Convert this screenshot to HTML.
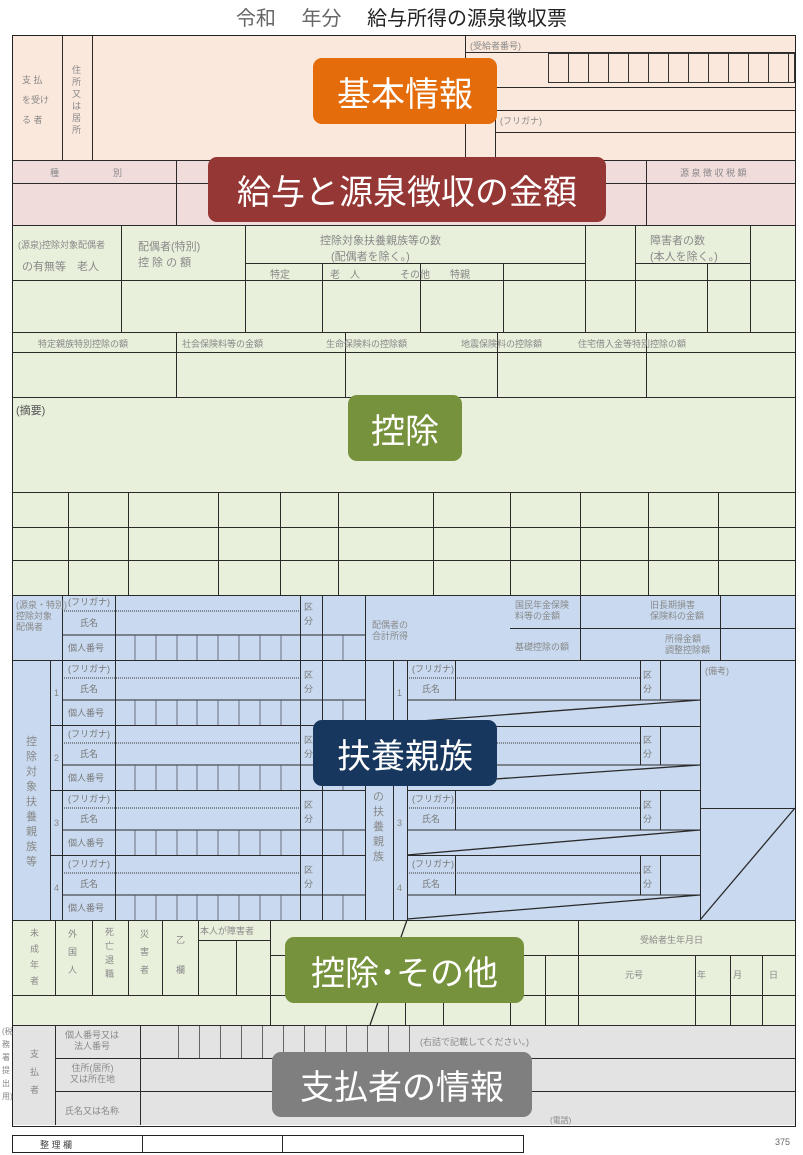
<!DOCTYPE html>
<html><head><meta charset="utf-8"><style>
body{margin:0;width:803px;height:1155px;background:#fff;position:relative;overflow:hidden;font-family:"Liberation Sans","Noto Sans CJK JP",sans-serif}
.a{position:absolute}
.h{position:absolute;height:0;border-top:1px solid #2a2a2a}
.v{position:absolute;width:0;border-left:1px solid #2a2a2a}
.t{position:absolute;font-size:9px;color:#888;white-space:nowrap}
.lab{position:absolute;color:#fff;border-radius:9px;font-size:34px;display:flex;align-items:center;justify-content:center;white-space:nowrap}
</style></head><body>
<div class="a" style="left:0;top:2px;width:803px;text-align:center;font-size:20px;color:#222"><span style="color:#666">令和　 年分　 </span>給与所得の源泉徴収票</div>
<div class="a" style="left:12px;top:36px;width:783px;height:124px;background:#fbe8dc"></div>
<div class="a" style="left:12px;top:160px;width:783px;height:65px;background:#f1dcdc"></div>
<div class="a" style="left:12px;top:225px;width:783px;height:370px;background:#e8f0dc"></div>
<div class="a" style="left:12px;top:595px;width:783px;height:325px;background:#c9daf0"></div>
<div class="a" style="left:12px;top:920px;width:783px;height:105px;background:#e8f0dc"></div>
<div class="a" style="left:12px;top:1025px;width:783px;height:100px;background:#e3e3e3"></div>
<div class="a" style="left:12px;top:35px;width:782px;height:1090px;border:1px solid #222"></div>
<div class="v" style="left:62px;top:36px;height:124px"></div>
<div class="v" style="left:92px;top:36px;height:124px"></div>
<div class="h" style="left:465px;top:52px;width:330px"></div>
<div class="h" style="left:465px;top:87px;width:330px"></div>
<div class="h" style="left:465px;top:110px;width:330px"></div>
<div class="h" style="left:495px;top:132px;width:300px"></div>
<div class="v" style="left:465px;top:36px;height:124px"></div>
<div class="v" style="left:495px;top:110px;height:50px"></div>
<div class="a" style="left:548px;top:53px;width:245px;height:28px;border:1px solid #333;background:repeating-linear-gradient(90deg,transparent 0 19px,#333 19px 20px)"></div>
<div class="t" style="left:470px;top:39px">(受給者番号)</div>
<div class="t" style="left:500px;top:114px">(フリガナ)</div>
<div class="t" style="left:22px;top:70px;line-height:20px">支 払<br>を受け<br>る 者</div>
<div class="t" style="left:72px;top:64px;width:10px;line-height:12px;white-space:normal">住所又は居所</div>
<div class="h" style="left:12px;top:160px;width:783px"></div>
<div class="h" style="left:12px;top:183px;width:783px"></div>
<div class="v" style="left:176px;top:160px;height:65px"></div>
<div class="v" style="left:646px;top:160px;height:65px"></div>
<div class="t" style="left:50px;top:166px">種　　　　　　別</div>
<div class="t" style="left:680px;top:166px">源 泉 徴 収 税 額</div>
<div class="h" style="left:12px;top:225px;width:783px"></div>
<div class="v" style="left:121px;top:225px;height:107px"></div>
<div class="v" style="left:245px;top:225px;height:107px"></div>
<div class="v" style="left:585px;top:225px;height:107px"></div>
<div class="v" style="left:635px;top:225px;height:107px"></div>
<div class="v" style="left:750px;top:225px;height:107px"></div>
<div class="h" style="left:245px;top:263px;width:340px"></div>
<div class="h" style="left:635px;top:263px;width:115px"></div>
<div class="h" style="left:12px;top:280px;width:783px"></div>
<div class="v" style="left:322px;top:263px;height:69px"></div>
<div class="v" style="left:420px;top:263px;height:69px"></div>
<div class="v" style="left:503px;top:263px;height:69px"></div>
<div class="v" style="left:707px;top:263px;height:69px"></div>
<div class="t" style="left:18px;top:238px">(源泉)控除対象配偶者</div>
<div class="t" style="left:22px;top:258px;font-size:11px">の有無等　老人</div>
<div class="t" style="left:138px;top:238px;font-size:11px">配偶者(特別)<br>控 除 の 額</div>
<div class="t" style="left:320px;top:232px;font-size:11px">控除対象扶養親族等の数<br>　(配偶者を除く。)</div>
<div class="t" style="left:270px;top:266px;font-size:10px">特定　　　　老　人　　　　その他　　特親</div>
<div class="t" style="left:650px;top:232px;font-size:11px">障害者の数<br>(本人を除く。)</div>
<div class="h" style="left:12px;top:332px;width:783px"></div>
<div class="h" style="left:12px;top:352px;width:783px"></div>
<div class="v" style="left:176px;top:332px;height:65px"></div>
<div class="v" style="left:345px;top:332px;height:65px"></div>
<div class="v" style="left:497px;top:332px;height:65px"></div>
<div class="v" style="left:646px;top:332px;height:65px"></div>
<div class="t" style="left:38px;top:337px">特定親族特別控除の額　　　　　　社会保険料等の金額　　　　　　　生命保険料の控除額　　　　　　地震保険料の控除額　　　　住宅借入金等特別控除の額</div>
<div class="h" style="left:12px;top:397px;width:783px"></div>
<div class="t" style="left:16px;top:402px;font-size:11px;color:#555">(摘要)</div>
<div class="h" style="left:12px;top:492px;width:783px"></div>
<div class="h" style="left:12px;top:527px;width:783px"></div>
<div class="h" style="left:12px;top:560px;width:783px"></div>
<div class="v" style="left:68px;top:492px;height:103px"></div>
<div class="v" style="left:128px;top:492px;height:103px"></div>
<div class="v" style="left:218px;top:492px;height:103px"></div>
<div class="v" style="left:280px;top:492px;height:103px"></div>
<div class="v" style="left:338px;top:492px;height:103px"></div>
<div class="v" style="left:433px;top:492px;height:103px"></div>
<div class="v" style="left:510px;top:492px;height:103px"></div>
<div class="v" style="left:580px;top:492px;height:103px"></div>
<div class="v" style="left:648px;top:492px;height:103px"></div>
<div class="v" style="left:718px;top:492px;height:103px"></div>
<div class="h" style="left:12px;top:595px;width:783px"></div>
<!-- blue -->
<div class="v" style="left:62px;top:595px;height:65px"></div>
<div class="v" style="left:115px;top:595px;height:325px"></div>
<div class="v" style="left:300px;top:595px;height:325px"></div>
<div class="v" style="left:322px;top:595px;height:325px"></div>
<div class="v" style="left:365px;top:595px;height:325px"></div>
<div class="v" style="left:50px;top:660px;height:260px"></div>
<div class="v" style="left:62px;top:660px;height:260px"></div>
<div class="h" style="left:12px;top:660px;width:353px"></div>
<div class="h" style="left:50px;top:725px;width:315px"></div>
<div class="h" style="left:50px;top:790px;width:315px"></div>
<div class="h" style="left:50px;top:855px;width:315px"></div>
<div class="v" style="left:393px;top:660px;height:260px"></div>
<div class="v" style="left:407px;top:660px;height:260px"></div>
<div class="v" style="left:455px;top:660px;height:40px"></div>
<div class="v" style="left:455px;top:726px;height:39px"></div>
<div class="v" style="left:455px;top:790px;height:40px"></div>
<div class="v" style="left:455px;top:855px;height:40px"></div>
<div class="v" style="left:640px;top:660px;height:40px"></div>
<div class="v" style="left:640px;top:726px;height:39px"></div>
<div class="v" style="left:640px;top:790px;height:40px"></div>
<div class="v" style="left:640px;top:855px;height:40px"></div>
<div class="v" style="left:660px;top:660px;height:40px"></div>
<div class="v" style="left:660px;top:726px;height:39px"></div>
<div class="v" style="left:660px;top:790px;height:40px"></div>
<div class="v" style="left:660px;top:855px;height:40px"></div>
<div class="v" style="left:700px;top:660px;height:260px"></div>
<div class="h" style="left:365px;top:660px;width:430px"></div>
<div class="h" style="left:407px;top:726px;width:293px"></div>
<div class="h" style="left:407px;top:790px;width:293px"></div>
<div class="h" style="left:407px;top:855px;width:293px"></div>
<div class="h" style="left:700px;top:808px;width:95px"></div>
<div class="v" style="left:580px;top:595px;height:65px"></div>
<div class="v" style="left:720px;top:595px;height:65px"></div>
<div class="h" style="left:510px;top:628px;width:285px"></div>
<div class="t" style="left:16px;top:600px;line-height:11px">(源泉・特別)<br>控除対象<br>配偶者</div>
<div class="t" style="left:372px;top:620px;line-height:11px">配偶者の<br>合計所得</div>
<div class="t" style="left:515px;top:600px;line-height:11px">国民年金保険<br>料等の金額</div>
<div class="t" style="left:515px;top:640px">基礎控除の額</div>
<div class="t" style="left:650px;top:600px;line-height:11px">旧長期損害<br>保険料の金額</div>
<div class="t" style="left:665px;top:634px;line-height:11px">所得金額<br>調整控除額</div>
<div class="t" style="left:26px;top:735px;width:12px;line-height:15px;white-space:normal;font-size:11px">控除対象扶養親族等</div>
<div class="t" style="left:373px;top:790px;width:12px;line-height:15px;white-space:normal;font-size:11px">の扶養親族</div>
<div class="t" style="left:705px;top:664px">(備考)</div>
<div class="t" style="left:54px;top:688px">1</div><div class="t" style="left:54px;top:753px">2</div><div class="t" style="left:54px;top:818px">3</div><div class="t" style="left:54px;top:883px">4</div>
<div class="t" style="left:397px;top:688px">1</div><div class="t" style="left:397px;top:753px">2</div><div class="t" style="left:397px;top:818px">3</div><div class="t" style="left:397px;top:883px">4</div>
<svg class="a" style="left:0;top:0" width="803" height="1155">
<g stroke="#2a2a2a" stroke-width="1.3">
<line x1="407" y1="722" x2="700" y2="700"/><line x1="407" y1="785" x2="700" y2="765"/>
<line x1="407" y1="855" x2="700" y2="830"/><line x1="407" y1="919" x2="700" y2="895"/>
<line x1="700" y1="920" x2="795" y2="808"/>
<line x1="370" y1="1025" x2="407" y2="920"/>
</g>
<g stroke="#2a2a2a" stroke-width="1">
<line x1="62" y1="635" x2="365" y2="635"/>
<line x1="62" y1="700" x2="365" y2="700"/><line x1="62" y1="765" x2="365" y2="765"/>
<line x1="62" y1="830" x2="365" y2="830"/><line x1="62" y1="895" x2="365" y2="895"/>
<line x1="407" y1="700" x2="700" y2="700"/><line x1="407" y1="765" x2="700" y2="765"/>
<line x1="407" y1="830" x2="700" y2="830"/><line x1="407" y1="895" x2="700" y2="895"/>
</g>
<g stroke="#333" stroke-width="1" stroke-dasharray="1,1">
<line x1="62" y1="611" x2="300" y2="611"/><line x1="62" y1="678" x2="300" y2="678"/><line x1="62" y1="743" x2="300" y2="743"/><line x1="62" y1="808" x2="300" y2="808"/><line x1="62" y1="873" x2="300" y2="873"/>
<line x1="407" y1="678" x2="640" y2="678"/><line x1="407" y1="743" x2="640" y2="743"/><line x1="407" y1="808" x2="640" y2="808"/><line x1="407" y1="873" x2="640" y2="873"/>
</g>
<g stroke="#556" stroke-width="0.8">
<path d="M135 635V660M156 635V660M177 635V660M197 635V660M218 635V660M239 635V660M260 635V660M281 635V660M343 635V660"/>
<path d="M135 700V725M156 700V725M177 700V725M197 700V725M218 700V725M239 700V725M260 700V725M281 700V725M343 700V725"/>
<path d="M135 765V790M156 765V790M177 765V790M197 765V790M218 765V790M239 765V790M260 765V790M281 765V790M343 765V790"/>
<path d="M135 830V855M156 830V855M177 830V855M197 830V855M218 830V855M239 830V855M260 830V855M281 830V855M343 830V855"/>
<path d="M135 895V920M156 895V920M177 895V920M197 895V920M218 895V920M239 895V920M260 895V920M281 895V920M343 895V920"/>
</g>
<g font-size="9" fill="#777" font-family="Liberation Sans, Noto Sans CJK JP, sans-serif">
<text x="68" y="605">(フリガナ)</text><text x="80" y="626">氏名</text><text x="68" y="651">個人番号</text>
<text x="68" y="672">(フリガナ)</text><text x="80" y="692">氏名</text><text x="68" y="716">個人番号</text>
<text x="68" y="737">(フリガナ)</text><text x="80" y="757">氏名</text><text x="68" y="781">個人番号</text>
<text x="68" y="802">(フリガナ)</text><text x="80" y="822">氏名</text><text x="68" y="846">個人番号</text>
<text x="68" y="867">(フリガナ)</text><text x="80" y="887">氏名</text><text x="68" y="911">個人番号</text>
<text x="412" y="672">(フリガナ)</text><text x="422" y="692">氏名</text>
<text x="412" y="737">(フリガナ)</text><text x="422" y="757">氏名</text>
<text x="412" y="802">(フリガナ)</text><text x="422" y="822">氏名</text>
<text x="412" y="867">(フリガナ)</text><text x="422" y="887">氏名</text>
<text x="643" y="678">区</text><text x="643" y="692">分</text>
<text x="643" y="743">区</text><text x="643" y="757">分</text>
<text x="643" y="808">区</text><text x="643" y="822">分</text>
<text x="643" y="873">区</text><text x="643" y="887">分</text>
<text x="304" y="610">区</text><text x="304" y="624">分</text>
<text x="304" y="678">区</text><text x="304" y="692">分</text>
<text x="304" y="743">区</text><text x="304" y="757">分</text>
<text x="304" y="808">区</text><text x="304" y="822">分</text>
<text x="304" y="873">区</text><text x="304" y="887">分</text>
</g>
</svg>
<!-- bottom green -->
<div class="h" style="left:12px;top:920px;width:783px"></div>
<div class="v" style="left:55px;top:920px;height:75px"></div>
<div class="v" style="left:92px;top:920px;height:75px"></div>
<div class="v" style="left:128px;top:920px;height:75px"></div>
<div class="v" style="left:162px;top:920px;height:75px"></div>
<div class="v" style="left:198px;top:920px;height:75px"></div>
<div class="v" style="left:236px;top:940px;height:55px"></div>
<div class="v" style="left:270px;top:920px;height:105px"></div>
<div class="v" style="left:405px;top:955px;height:70px"></div>
<div class="v" style="left:443px;top:955px;height:70px"></div>
<div class="v" style="left:510px;top:955px;height:70px"></div>
<div class="v" style="left:545px;top:955px;height:70px"></div>
<div class="v" style="left:578px;top:920px;height:105px"></div>
<div class="v" style="left:695px;top:955px;height:70px"></div>
<div class="v" style="left:730px;top:955px;height:70px"></div>
<div class="v" style="left:762px;top:955px;height:70px"></div>
<div class="h" style="left:198px;top:940px;width:72px"></div>
<div class="h" style="left:270px;top:955px;width:525px"></div>
<div class="h" style="left:12px;top:995px;width:783px"></div>
<div class="t" style="left:30px;top:925px;width:10px;line-height:16px;white-space:normal">未成年者</div>
<div class="t" style="left:68px;top:925px;width:10px;line-height:18px;white-space:normal">外国人</div>
<div class="t" style="left:105px;top:925px;width:10px;line-height:14px;white-space:normal">死亡退職</div>
<div class="t" style="left:140px;top:925px;width:10px;line-height:18px;white-space:normal">災害者</div>
<div class="t" style="left:176px;top:925px;width:10px;line-height:30px;white-space:normal">乙欄</div>
<div class="t" style="left:200px;top:924px">本人が障害者</div>
<div class="t" style="left:640px;top:933px">受給者生年月日</div>
<div class="t" style="left:625px;top:968px">元号　　　　　　年　　　月　　　日</div>
<div class="h" style="left:12px;top:1025px;width:783px"></div>
<div class="v" style="left:55px;top:1025px;height:100px"></div>
<div class="v" style="left:140px;top:1025px;height:100px"></div>
<div class="h" style="left:55px;top:1058px;width:740px"></div>
<div class="h" style="left:55px;top:1091px;width:740px"></div>
<div class="a" style="left:158px;top:1026px;width:254px;height:32px;background:repeating-linear-gradient(90deg,transparent 0 20px,#666 20px 21px)"></div>
<div class="t" style="left:420px;top:1035px">(右詰で記載してください。)</div>
<div class="t" style="left:65px;top:1030px;line-height:11px;text-align:center">個人番号又は<br>法人番号</div>
<div class="t" style="left:70px;top:1063px;line-height:11px;text-align:center">住所(居所)<br>又は所在地</div>
<div class="t" style="left:65px;top:1104px">氏名又は名称</div>
<div class="t" style="left:30px;top:1045px;width:10px;line-height:18px;white-space:normal">支払者</div>
<div class="t" style="left:2px;top:1025px;width:10px;line-height:13px;white-space:normal;font-size:8px">(税務署提出用)</div>
<div class="t" style="left:550px;top:1115px;font-size:8px">(電話)</div>
<div class="a" style="left:12px;top:1135px;width:510px;height:16px;border:1px solid #222"></div>
<div class="v" style="left:142px;top:1135px;height:17px"></div>
<div class="v" style="left:282px;top:1135px;height:17px"></div>
<div class="t" style="left:40px;top:1138px;color:#444">整 理 欄</div>
<div class="t" style="left:775px;top:1137px;color:#666">375</div>
<div class="lab" style="left:313px;top:58px;width:184px;height:66px;background:#e46c0a">基本情報</div>
<div class="lab" style="left:208px;top:157px;width:398px;height:65px;background:#953735">給与と源泉徴収の金額</div>
<div class="lab" style="left:348px;top:395px;width:114px;height:66px;background:#77923c">控除</div>
<div class="lab" style="left:313px;top:720px;width:184px;height:66px;background:#17375e">扶養親族</div>
<div class="lab" style="left:285px;top:937px;width:239px;height:66px;background:#77923c">控除･その他</div>
<div class="lab" style="left:272px;top:1052px;width:260px;height:65px;background:#7f7f7f">支払者の情報</div>
</body></html>
